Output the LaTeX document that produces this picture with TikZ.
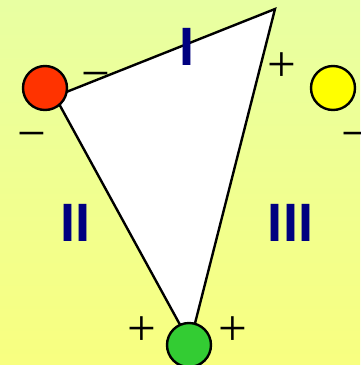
\documentclass[tikz,border=0pt]{standalone}
\usepackage{fontspec}
\setmainfont{Liberation Sans}
\newfontfamily\signfont{Liberation Serif}
\definecolor{bgtop}{RGB}{232,255,162}
\definecolor{bgbot}{RGB}{248,255,128}
\definecolor{numblue}{RGB}{0,0,128}
\definecolor{ballred}{RGB}{255,51,0}
\definecolor{ballyellow}{RGB}{255,255,0}
\definecolor{ballgreen}{RGB}{51,204,51}
\begin{document}
\begin{tikzpicture}[x=1pt,y=-1pt,
  roman/.style={text=numblue, font=\fontsize{54}{54}\selectfont\bfseries, inner sep=0pt},
  sign/.style={font=\signfont\fontsize{51}{51}\selectfont, inner sep=0pt, anchor=base},
  ball/.style={circle, draw=black, line width=2.4pt, minimum size=44pt, inner sep=0pt},
  tri/.style={draw=black, line width=2.4pt, fill=white, line join=miter}]
\useasboundingbox (0,0) rectangle (360,365);
\fill[top color=bgtop, bottom color=bgbot] (0pt,0pt) rectangle (360pt,-365pt);
\coordinate (A) at (55,96.5);
\coordinate (B) at (275,9);
\coordinate (C) at (190,343);
\path[tri] (A) -- (B) -- (C) -- cycle;
\node[ball, fill=ballred] (red) at (45,88) {};
\node[ball, fill=ballyellow] (yellow) at (333,88) {};
\node[ball, fill=ballgreen] (green) at (189,345) {};
\node[roman] (n1) at (187,46.5) {I};
\node[roman] (n2) at (75.5,222.5) {II};
\node[roman] (n3) at (290.5,222.5) {III};
\node[sign] (s1) at (95.5,90.8) {−};
\node[sign] (s2) at (31.6,150) {−};
\node[sign] (s3) at (281.5,81.3) {+};
\node[sign] (s4) at (355.5,150) {−};
\node[sign] (s5) at (141.5,345.5) {+};
\node[sign] (s6) at (233.2,345.5) {+};
\end{tikzpicture}
\end{document}
